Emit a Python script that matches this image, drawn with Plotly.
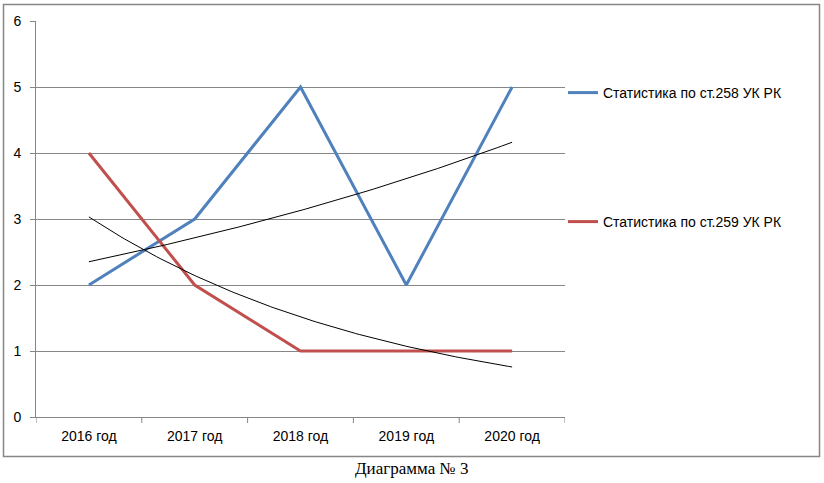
import numpy as np
import plotly.graph_objects as go

categories = ["2016 год", "2017 год", "2018 год", "2019 год", "2020 год"]
series_258 = [2, 3, 5, 2, 5]
series_259 = [4, 2, 1, 1, 1]
name_258 = "Статистика по ст.258 УК РК"
name_259 = "Статистика по ст.259 УК РК"
y_ticks = [0, 1, 2, 3, 4, 5, 6]
caption = "Диаграмма № 3"

BLUE = "#4F81BD"
RED = "#C0504D"
GRID = "#868686"

W, H = 824, 483
L, R, T, B = 36, 565, 21, 417
pw, ph = R - L, B - T


def px_x(x):
    return (x - L) / pw


def px_y(y):
    return (B - y) / ph


def exp_trend(vals):
    xs = np.arange(1, len(vals) + 1)
    b, a = np.polyfit(xs, np.log(vals), 1)
    xf = np.linspace(1, len(vals), 120)
    return xf - 1, np.exp(a + b * xf)


idx = list(range(len(categories)))
fig = go.Figure()
fig.add_trace(go.Scatter(x=idx, y=series_258, mode="lines", name=name_258,
                         line=dict(color=BLUE, width=3), legend="legend"))
fig.add_trace(go.Scatter(x=idx, y=series_259, mode="lines", name=name_259,
                         line=dict(color=RED, width=3), legend="legend2"))
for vals in (series_258, series_259):
    tx, ty = exp_trend(vals)
    fig.add_trace(go.Scatter(x=tx, y=ty, mode="lines", showlegend=False,
                             line=dict(color="black", width=1), hoverinfo="skip"))

font = dict(family="Liberation Sans, Arial, sans-serif", size=14, color="black")
fig.update_layout(
    width=W, height=H,
    margin=dict(l=L, r=W - R, t=T, b=H - B),
    paper_bgcolor="white", plot_bgcolor="white",
    font=font,
    showlegend=True,
    xaxis=dict(range=[-0.5, len(categories) - 0.5], tickmode="array",
               tickvals=idx, ticktext=categories, ticks="", showgrid=False,
               zeroline=False, showline=True, linecolor=GRID, linewidth=1,
               tickfont=dict(size=14), ticklabelstandoff=6),
    yaxis=dict(range=[0, 6], tickmode="array", tickvals=y_ticks,
               ticks="outside", ticklen=5, tickcolor=GRID,
               showgrid=True, gridcolor=GRID, gridwidth=1, zeroline=False,
               showline=True, linecolor=GRID, linewidth=1,
               tickfont=dict(size=14), ticklabelstandoff=6),
    legend=dict(x=px_x(563), y=px_y(93), xanchor="left", yanchor="middle",
                bgcolor="rgba(0,0,0,0)", font=dict(size=14)),
    legend2=dict(x=px_x(563), y=px_y(222), xanchor="left", yanchor="middle",
                 bgcolor="rgba(0,0,0,0)", font=dict(size=14)),
)

shapes = []
# category boundary ticks on x axis
for i in range(len(categories) + 1):
    xb = i - 0.5
    shapes.append(dict(type="line", xref="x", yref="paper", x0=xb, x1=xb,
                       y0=0, y1=-6 / ph, line=dict(color=GRID, width=1)))
# outer chart border
shapes.append(dict(type="rect", xref="paper", yref="paper",
                   x0=px_x(3.5), x1=px_x(819.5), y0=px_y(456.5), y1=px_y(4.5),
                   line=dict(color=GRID, width=1.5)))
fig.update_layout(shapes=shapes)

fig.add_annotation(text=caption, xref="paper", yref="paper",
                   x=px_x(411), y=px_y(468), xanchor="center", yanchor="middle",
                   showarrow=False,
                   font=dict(family="Liberation Serif, Times New Roman, serif",
                             size=17, color="black"))

fig.write_html("out.html", config={"displayModeBar": False},
               post_script="document.body.style.margin='0';document.body.style.padding='0';")
